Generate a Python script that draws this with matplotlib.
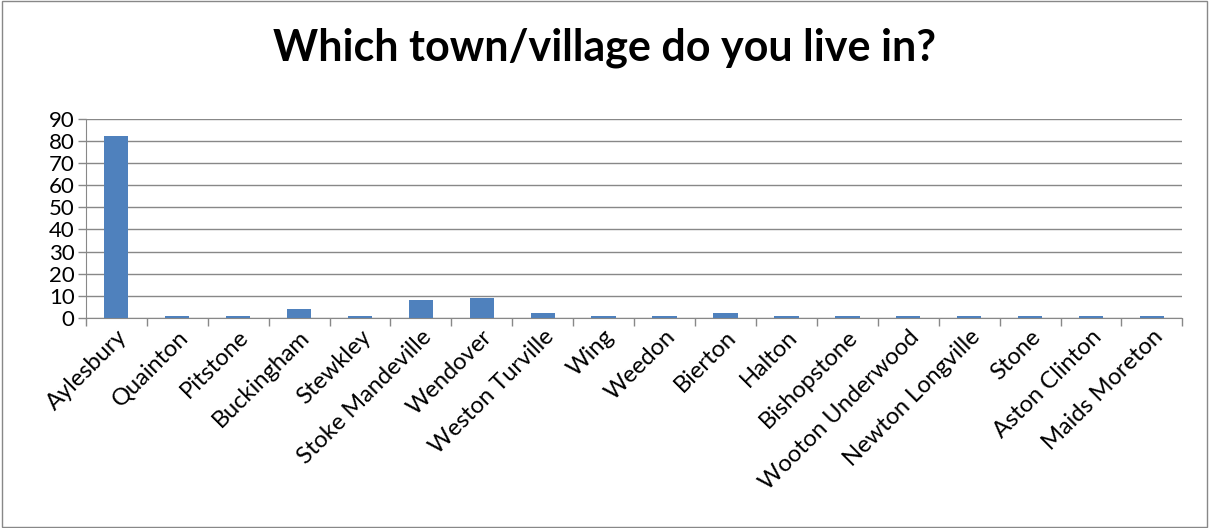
import matplotlib as mpl
import matplotlib.pyplot as plt
import numpy as np

plt.rcParams['font.family'] = ['Lato', 'DejaVu Sans']

towns = ["Aylesbury", "Quainton", "Pitstone", "Buckingham", "Stewkley",
         "Stoke Mandeville", "Wendover", "Weston Turville", "Wing", "Weedon",
         "Bierton", "Halton", "Bishopstone", "Wooton Underwood",
         "Newton Longville", "Stone", "Aston Clinton", "Maids Moreton"]
counts = [82, 1, 1, 4, 1, 8, 9, 2, 1, 1, 2, 1, 1, 1, 1, 1, 1, 1]

fig = plt.figure(figsize=(12.09, 5.28), dpi=100)
ax = fig.add_axes([0.071, 0.398, 0.907, 0.377])

x = np.arange(len(towns))
ax.bar(x, counts, width=0.4, color='#4F81BD', zorder=3)

ax.set_xlim(-0.5, len(towns) - 0.5)
ax.set_ylim(0, 90)
ax.set_yticks(np.arange(0, 91, 10))
ax.yaxis.grid(True, color='#888888', linewidth=1, zorder=0)
ax.tick_params(axis='y', labelsize=16, length=6, width=1, color='#888888', pad=2)

ax.set_xticks(x)
ax.set_xticklabels(towns, rotation=45, ha='right', rotation_mode='anchor', fontsize=17)
ax.tick_params(axis='x', length=0, pad=6)
ax.set_xticks(np.arange(-0.5, len(towns), 1), minor=True)
ax.tick_params(axis='x', which='minor', length=6, width=1, color='#888888')

for s in ['top', 'right']:
    ax.spines[s].set_visible(False)
for s in ['left', 'bottom']:
    ax.spines[s].set_color('#888888')

fig.text(0.5, 0.91, "Which town/village do you live in?", ha='center', va='center',
         fontsize=31, fontweight='bold')

border = mpl.patches.Rectangle((0.002, 0.002), 0.996, 0.996, transform=fig.transFigure,
                               fill=False, edgecolor='#888888', linewidth=1)
fig.patches.append(border)

fig.savefig('out.png', dpi=100)
